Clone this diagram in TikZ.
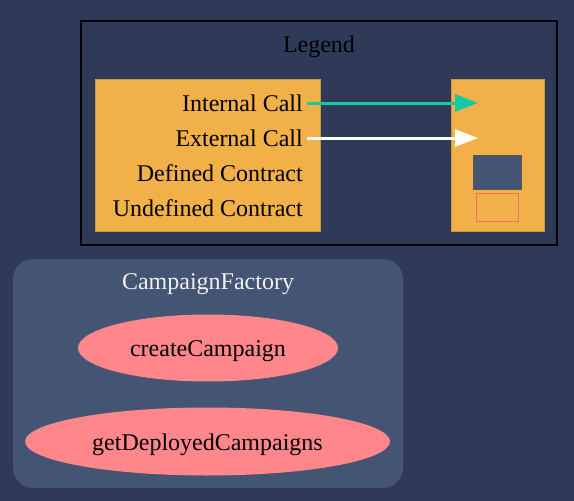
\documentclass[tikz,border=0pt]{standalone}
\usepackage{fontspec}
\setmainfont{Liberation Serif}
\usetikzlibrary{arrows.meta,shapes.geometric}
\definecolor{bgblue}{HTML}{2F3A58}
\definecolor{clusterblue}{HTML}{445573}
\definecolor{legendorange}{HTML}{F2B049}
\definecolor{funcpink}{HTML}{FF878C}
\definecolor{callteal}{HTML}{14C9A6}
\definecolor{undefred}{HTML}{F4706C}
\begin{document}
\begin{tikzpicture}[
    x=1pt, y=-1pt,
    panel/.style={
        rectangle,
        fill=legendorange,
        draw=legendorange!85!black,
        line width=0.6pt
    },
    keytext/.style={
        anchor=east,
        inner sep=0pt,
        text height=17pt,
        text depth=0pt,
        font=\fontsize{24}{28}\selectfont
    },
    func/.style={
        ellipse,
        fill=funcpink,
        inner sep=0pt,
        text height=17pt,
        text depth=0pt,
        font=\fontsize{24}{28}\selectfont
    },
    callarrow/.style={-{Triangle[length=23pt,width=17pt]}, line width=3pt}
]

% background and bounding box
\fill[bgblue] (0,0) rectangle (574,501);
\useasboundingbox (0,0) rectangle (574,501);

% legend
\draw[black, line width=1.3pt] (81,21) rectangle (557,245);
\node[keytext, anchor=center] (legend) at (319,44) {Legend};
\draw[panel] (95,79) rectangle (320.5,231.5);
\draw[panel] (451,79) rectangle (544,231.5);

\node[keytext] (intcall) at (303,103) {Internal Call};
\node[keytext] (extcall) at (303,138) {External Call};
\node[keytext] (defcon) at (303,173) {Defined Contract};
\node[keytext] (undefcon) at (303,208) {Undefined Contract};

\coordinate (intend) at (478,103);
\coordinate (extend) at (478,138);
\draw[callarrow, callteal] ([xshift=4pt]intcall.east) -- (intend);
\draw[callarrow, white] ([xshift=4pt]extcall.east) -- (extend);

\draw[fill=clusterblue, draw=gray!70!black, line width=0.6pt] (473,155.5) rectangle (521.5,189.5);
\draw[draw=undefred, line width=1.3pt] (476.5,193.5) rectangle (518.5,221.5);

% CampaignFactory
\fill[clusterblue, rounded corners=20pt] (13,259) rectangle (403,488);
\node[keytext, anchor=center, text=white!94!black] (factory) at (208,281) {CampaignFactory};

\node[func, minimum width=260pt, minimum height=67pt] (create) at (208,348) {createCampaign};
\node[func, minimum width=365pt, minimum height=68pt] (getdeployed) at (207.5,441.5) {getDeployedCampaigns};

\end{tikzpicture}
\end{document}
